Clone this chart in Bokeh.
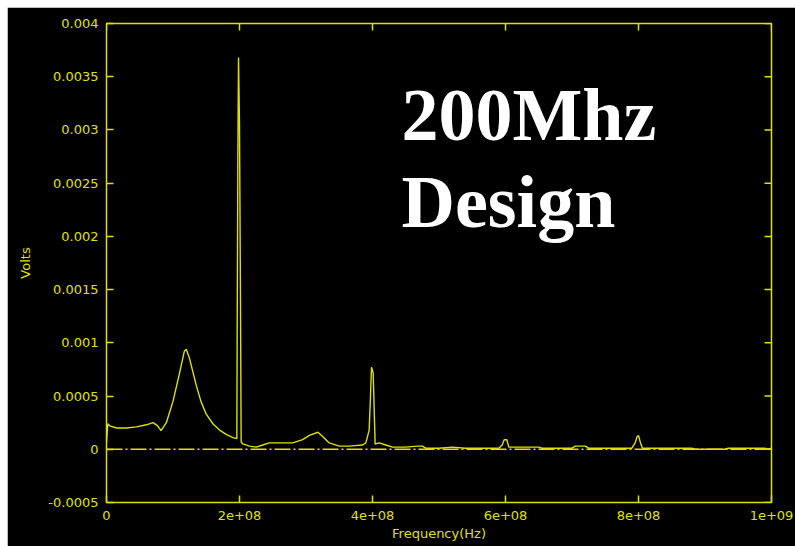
import math
from bokeh.plotting import figure
from bokeh.models import FixedTicker, CustomJSTickFormatter, LinearAxis, Label, Spacer
from bokeh.layouts import column, row
from bokeh.embed import file_html
from bokeh.resources import INLINE

# spectrum (frequency in MHz, volts)
freq_mhz = [0, 2, 5, 15, 30, 45, 60, 70, 77, 82, 90, 100, 110, 117, 120, 125, 135, 142, 150,
            160, 170, 180, 190, 196, 196.5, 197.5, 198.5, 200, 201.5, 202.5, 205, 215, 225,
            235, 245, 260, 280, 295, 305, 318, 325, 335, 350, 365, 385, 390, 395, 397, 398.5,
            401, 402.5, 404, 410, 420, 430, 440, 450, 467, 475, 480, 500, 520, 540, 560, 590,
            595, 598, 602, 605, 620, 650, 655, 700, 705, 720, 725, 790, 795, 798, 800, 803,
            806, 880, 885, 930, 935, 990, 995, 1000]
volts = [0.00007, 0.00024, 0.00022, 0.0002, 0.0002, 0.00021, 0.00023, 0.00025, 0.00022,
         0.000175, 0.00025, 0.00045, 0.00072, 0.00092, 0.00094, 0.00085, 0.0006, 0.00045,
         0.00033, 0.00024, 0.00018, 0.00014, 0.00011, 0.0001, 0.00107, 0.00268, 0.00368,
         0.00304, 0.00138, 0.00007, 0.00005, 0.00003, 0.00002, 0.00004, 0.00006, 0.00006,
         0.00006, 0.00009, 0.00013, 0.00016, 0.00012, 0.00006, 0.00003, 0.00003, 0.00004,
         0.00006, 0.00018, 0.0005, 0.00077, 0.00072, 0.00038, 0.00005, 0.00006, 0.00004,
         0.00002, 0.00002, 0.00002, 0.00003, 0.00003, 0.00001, 0.00001, 0.00002, 0.00001,
         0.00001, 0.00001, 0.00004, 0.00009, 0.00009, 0.00002, 0.00002, 0.00002, 0.00001,
         0.00001, 0.00003, 0.00003, 0.00001, 0.00001, 0.00006, 0.00012, 0.00013, 0.00006,
         0.00001, 0.00001, 0.0, 0.0, 0.00001, 0.00001, 0.0, 0.00001]
freq_hz = [f * 1e6 for f in freq_mhz]

zero_x = [0, 1e9]
zero_y = [0, 0]

x_ticks = [0, 2e8, 4e8, 6e8, 8e8, 1e9]
y_ticks = [-0.0005, 0, 0.0005, 0.001, 0.0015, 0.002, 0.0025, 0.003, 0.0035, 0.004]

title_lines = ["200Mhz", "Design"]

YEL = "#E0E000"
X0, X1 = 0, 1e9
Y0, Y1 = -0.0005, 0.004

p = figure(width=788, height=539, output_backend="svg", toolbar_location=None,
           x_range=(X0, X1), y_range=(Y0, Y1),
           background_fill_color="black", border_fill_color="black",
           min_border_left=99, min_border_right=24, min_border_top=16, min_border_bottom=44,
           x_axis_location=None, y_axis_location=None)
p.grid.visible = False
p.outline_line_color = YEL
p.outline_line_width = 1.5

xfmt = CustomJSTickFormatter(code="""
if (tick == 0) return "0";
const e = Math.floor(Math.log10(Math.abs(tick)) + 1e-9);
const m = Math.round(tick / Math.pow(10, e) * 1000) / 1000;
return m + "e+" + String(e).padStart(2, "0");
""")
yfmt = CustomJSTickFormatter(code="return tick.toString();")

def style(ax):
    ax.axis_line_color = None
    ax.major_tick_line_color = YEL
    ax.major_tick_line_width = 1.5
    ax.major_tick_in = 7
    ax.major_tick_out = 0
    ax.minor_tick_line_color = None
    ax.major_label_text_color = YEL
    ax.major_label_text_font = "DejaVu Sans"
    ax.major_label_text_font_size = "13px"
    ax.axis_label_text_color = YEL
    ax.axis_label_text_font = "DejaVu Sans"
    ax.axis_label_text_font_size = "13px"
    ax.axis_label_text_font_style = "normal"

bottom = LinearAxis(ticker=FixedTicker(ticks=x_ticks), formatter=xfmt, axis_label="Frequency(Hz)")
style(bottom)
bottom.major_label_standoff = 8
bottom.axis_label_standoff = 3
p.add_layout(bottom, "below")

left = LinearAxis(ticker=FixedTicker(ticks=y_ticks), formatter=yfmt, axis_label="Volts")
style(left)
left.major_label_standoff = 8
left.axis_label_standoff = 12
p.add_layout(left, "left")

# inward tick marks on the top and right edges (half of each dash is clipped by the frame)
p.scatter(x_ticks, [Y1] * len(x_ticks), marker="dash", angle=math.pi / 2, size=14,
          line_color=YEL, line_width=1.5)
p.scatter([X1] * len(y_ticks), y_ticks, marker="dash", size=14,
          line_color=YEL, line_width=1.5)

p.line(zero_x, zero_y, line_color=YEL, line_width=1.5, line_dash="16 3 2 3")
p.line(freq_hz, volts, line_color=YEL, line_width=1.4)

p.add_layout(Label(x=4.436e8, y=0.003144, text=title_lines[0], text_color="white",
                   text_font="Liberation Serif", text_font_style="bold",
                   text_font_size="74px", text_baseline="alphabetic"))
p.add_layout(Label(x=4.436e8, y=0.002324, text=title_lines[1], text_color="white",
                   text_font="Liberation Serif", text_font_style="bold",
                   text_font_size="74px", text_baseline="alphabetic"))

layout = column(Spacer(height=7), row(Spacer(width=7), p))
open("out.html", "w").write(file_html(layout, INLINE))
